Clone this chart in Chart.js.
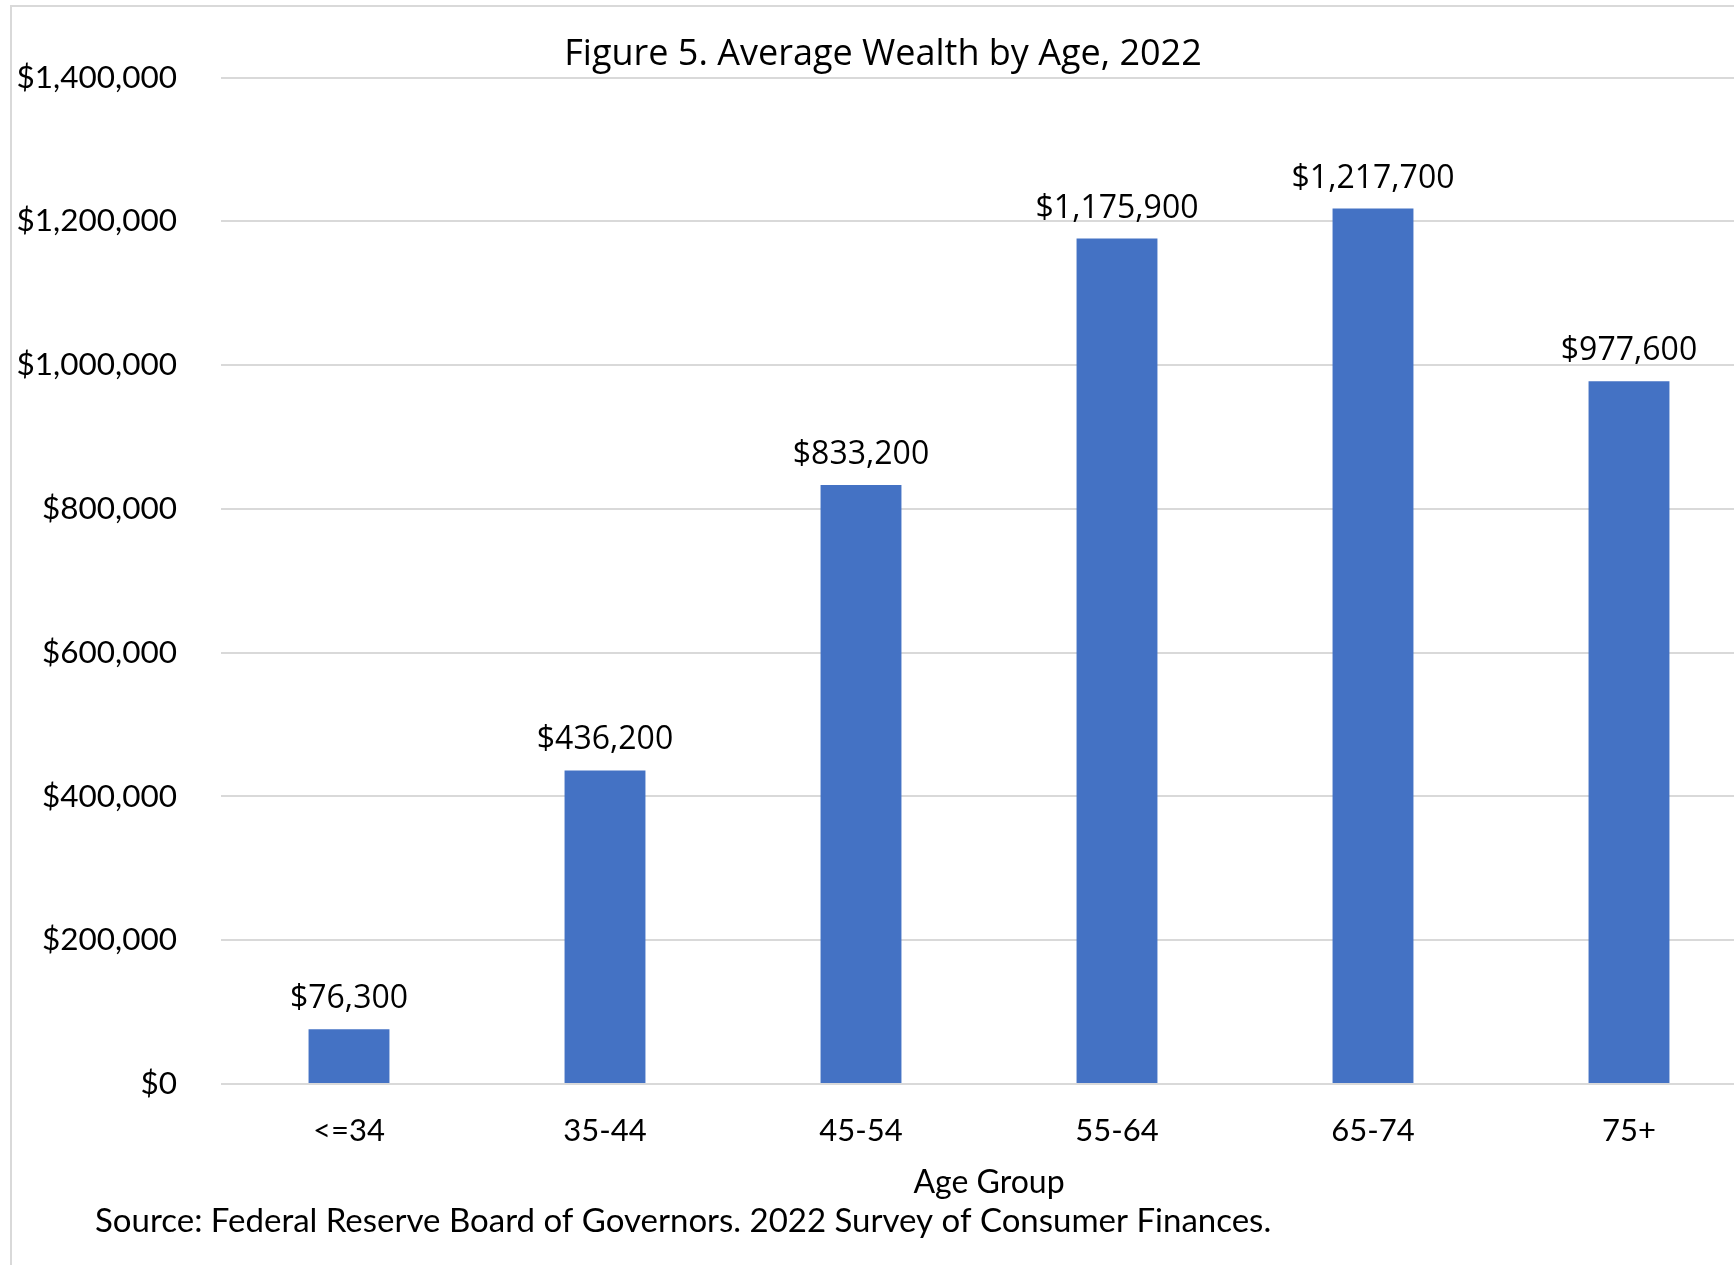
<!DOCTYPE html>
<html>
<head>
<meta charset="utf-8">
<title>Figure 5. Average Wealth by Age, 2022</title>
<script src="https://cdn.jsdelivr.net/npm/chart.js@4.4.1/dist/chart.umd.min.js"></script>
<style>
  html, body { margin: 0; padding: 0; background: #ffffff; width: 1734px; height: 1265px; overflow: hidden; }
  #frame { position: absolute; left: 10px; top: 5px; width: 1800px; height: 1400px; border: 2px solid #d9d9d9; box-sizing: border-box; }
  #wrap { position: absolute; left: 0; top: 0; width: 1775px; height: 1265px; }
</style>
</head>
<body>
<div id="frame"></div>
<div id="wrap"><canvas id="chart" width="1775" height="1265"></canvas></div>
<script>
// Average household net worth by age of head of family, 2022 (dollars)
const ageGroups = ['<=34', '35-44', '45-54', '55-64', '65-74', '75+'];
const avgWealth = [76300, 436200, 833200, 1175900, 1217700, 977600];
const yTickValues = [0, 200000, 400000, 600000, 800000, 1000000, 1200000, 1400000];

const chartTitle = 'Figure 5. Average Wealth by Age, 2022';
const xAxisTitle = 'Age Group';
const sourceNote = 'Source: Federal Reserve Board of Governors. 2022 Survey of Consumer Finances.';

const money = v => '$' + Number(v).toLocaleString('en-US');

// Dollar value printed above each bar
const valueLabels = {
  id: 'valueLabels',
  afterDatasetsDraw(chart) {
    const ctx = chart.ctx;
    const meta = chart.getDatasetMeta(0);
    const values = chart.data.datasets[0].data;
    ctx.save();
    ctx.font = '32px "Open Sans"';
    ctx.fillStyle = '#000000';
    ctx.textAlign = 'center';
    ctx.textBaseline = 'alphabetic';
    meta.data.forEach((bar, i) => {
      ctx.fillText(money(values[i]), bar.x, bar.y - 21);
    });
    ctx.restore();
  }
};

// Source line under the chart
const sourceLine = {
  id: 'sourceLine',
  afterDraw(chart) {
    const ctx = chart.ctx;
    ctx.save();
    ctx.font = '33px Lato';
    ctx.fillStyle = '#000000';
    ctx.textAlign = 'left';
    ctx.textBaseline = 'alphabetic';
    ctx.fillText(sourceNote, 95, 1232);
    ctx.restore();
  }
};

new Chart(document.getElementById('chart'), {
  type: 'bar',
  data: {
    labels: ageGroups,
    datasets: [{
      data: avgWealth,
      backgroundColor: '#4472C4',
      borderWidth: 0,
      barPercentage: 0.316,
      categoryPercentage: 1.0
    }]
  },
  options: {
    responsive: false,
    animation: false,
    devicePixelRatio: 1,
    layout: { padding: { left: 9, right: 18, top: 0, bottom: 0 } },
    plugins: {
      legend: { display: false },
      tooltip: { enabled: false },
      title: {
        display: true,
        text: chartTitle,
        color: '#000000',
        font: { family: '"Open Sans"', size: 36, weight: 'normal' },
        padding: { top: 33, bottom: 1.3 }
      }
    },
    scales: {
      x: {
        grid: { display: false, drawTicks: false },
        border: { display: false },
        ticks: {
          color: '#000000',
          font: { family: 'Lato', size: 31 },
          padding: 28,
          maxRotation: 0,
          autoSkip: false
        },
        title: {
          display: true,
          text: xAxisTitle,
          color: '#000000',
          font: { family: 'Lato', size: 32 },
          padding: { top: 0, bottom: 63 }
        },
        afterFit(scale) { scale.height = 181; }
      },
      y: {
        min: 0,
        max: 1400000,
        afterBuildTicks(scale) { scale.ticks = yTickValues.map(v => ({ value: v })); },
        grid: { color: '#d9d9d9', lineWidth: 2, drawTicks: false },
        border: { display: false },
        ticks: {
          color: '#000000',
          font: { family: 'Lato', size: 31.5 },
          padding: 44,
          callback: v => money(v)
        },
        afterFit(scale) { scale.width = 212; }
      }
    }
  },
  plugins: [valueLabels, sourceLine]
});
</script>
</body>
</html>
